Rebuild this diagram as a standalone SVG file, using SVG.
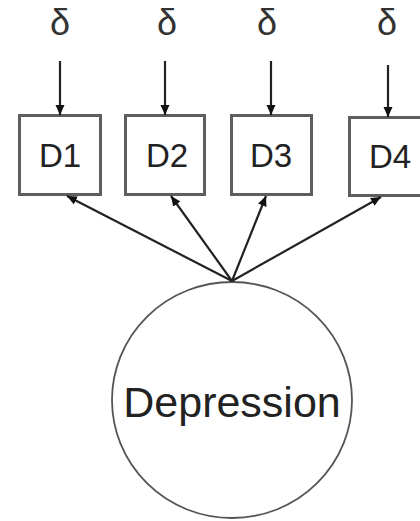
<svg xmlns="http://www.w3.org/2000/svg" width="420" height="521" viewBox="0 0 420 521">
<style>
.box{fill:#fff;stroke:#5e5e5e;stroke-width:3}
.lbl{font-family:"Liberation Sans",Arial,sans-serif;font-size:33px;fill:#222;text-anchor:middle}
.dl{font-family:"Liberation Sans",Arial,sans-serif;font-size:36px;fill:#333;text-anchor:middle}
.ar{stroke:#222;stroke-width:2.2;fill:none;marker-end:url(#ah)}
</style>
<defs>
<marker id="ah" markerUnits="userSpaceOnUse" markerWidth="10" markerHeight="10" viewBox="0 0 10 10" refX="10" refY="5" orient="auto">
<path d="M0,0.5 L10,5 L0,9.5 z" fill="#111"/>
</marker>
</defs>
<rect width="420" height="521" fill="#fff"/>
<g id="delta1"><text class="dl" x="60" y="35">δ</text></g>
<g id="delta2"><text class="dl" x="167" y="35">δ</text></g>
<g id="delta3"><text class="dl" x="267" y="35">δ</text></g>
<g id="delta4"><text class="dl" x="387" y="35">δ</text></g>
<g id="D1"><rect class="box" x="19.5" y="115.5" width="81" height="79"/><text class="lbl" x="60" y="167">D1</text></g>
<g id="D2"><rect class="box" x="125.5" y="115.5" width="79" height="79"/><text class="lbl" x="167" y="167">D2</text></g>
<g id="D3"><rect class="box" x="231.5" y="115.5" width="80" height="79"/><text class="lbl" x="271" y="167">D3</text></g>
<g id="D4"><rect class="box" x="349.5" y="117.5" width="74" height="78"/><text class="lbl" x="390" y="168">D4</text></g>
<g id="Depression"><ellipse cx="232" cy="400" rx="120" ry="118" fill="#fff" stroke="#555" stroke-width="1.8"/><text x="232" y="417" font-family="Liberation Sans, Arial, sans-serif" font-size="43" fill="#222" text-anchor="middle">Depression</text></g>
<g id="connectors">
<line class="ar" x1="60" y1="61" x2="60" y2="115"/>
<line class="ar" x1="165" y1="61" x2="165" y2="115"/>
<line class="ar" x1="271" y1="61" x2="271" y2="115"/>
<line class="ar" x1="388" y1="65" x2="388" y2="117"/>
<line class="ar" x1="232" y1="281" x2="67" y2="196"/>
<line class="ar" x1="232" y1="281" x2="171" y2="196"/>
<line class="ar" x1="232" y1="281" x2="266" y2="196"/>
<line class="ar" x1="232" y1="281" x2="381" y2="197"/>
</g>
</svg>
